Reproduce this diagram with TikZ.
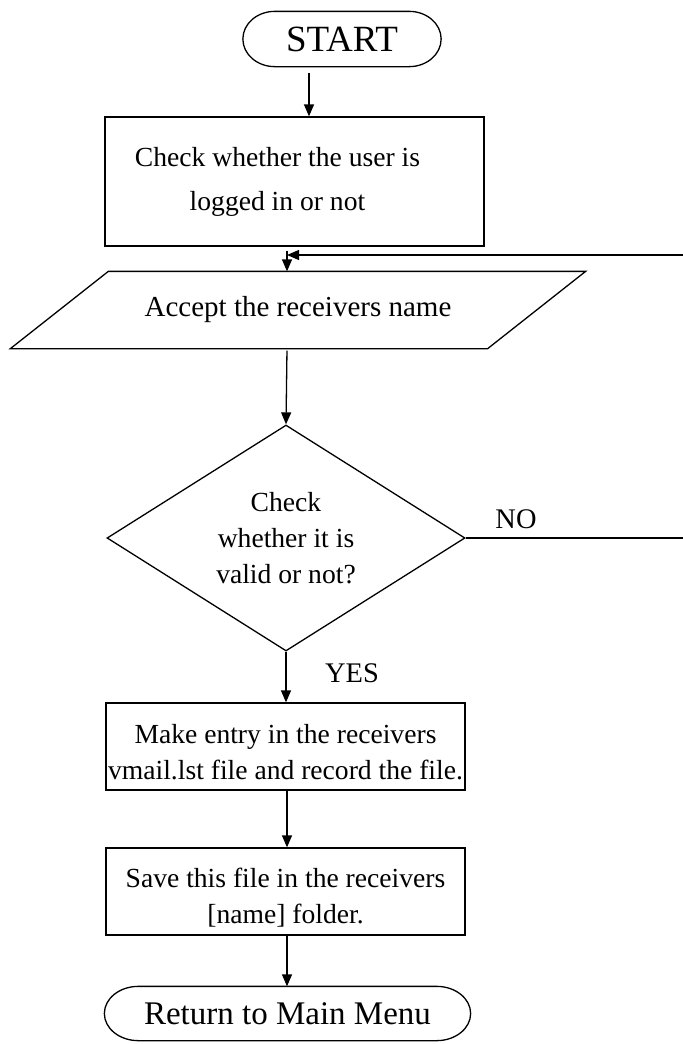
\documentclass[tikz,border=0pt]{standalone}
\usepackage{fontspec}
\setmainfont{Liberation Serif}
\usetikzlibrary{shapes.geometric,arrows.meta,calc}

% outline of a terminal node: straight top and bottom, elliptic ends
\newcommand\termoutline[2]{%
  \draw let \p1=(#1.north), \p2=(#1.south), \n1={(\y1-\y2)/2} in
    ([xshift=#2]#1.north west) -- ([xshift=-#2]#1.north east)
    arc[start angle=90, end angle=-90, x radius=#2, y radius=\n1]
    -- ([xshift=#2]#1.south west)
    arc[start angle=270, end angle=90, x radius=#2, y radius=\n1];}

\begin{document}
\begin{tikzpicture}[x=0.5pt, y=0.5pt, line width=0.65pt,
  every node/.style={font=\fontsize{13.8}{18}\selectfont, inner sep=0pt},
  termtext/.style={align=center},
  procbox/.style={draw, rectangle, align=center},
  decision/.style={draw, diamond, aspect=1.58, align=center},
  lbl/.style={font=\fontsize{14.2}{18}\selectfont},
  arr/.style={-{Triangle[length=6pt, width=5pt]}}]
\useasboundingbox (0,0) rectangle (682,-1044);

% column where the main flow runs
\coordinate (colA) at (287,0);
\coordinate (colS) at (309,0);

% terminals, processes, input and decision
\node[termtext, minimum width=98.5pt, minimum height=27pt,
      font=\fontsize{18.5}{20}\selectfont] (start) at (342,-39) {START};
\termoutline{start}{16pt}

\node[procbox, minimum width=189.5pt, minimum height=64.5pt,
      font=\fontsize{13.8}{22}\selectfont] (login) at (294.5,-181.5)
  {Check whether the user is\hspace*{17pt}\\logged in or not\hspace*{17pt}};

\node[minimum width=287pt, minimum height=38pt,
      font=\fontsize{14.5}{18}\selectfont] (accept) at (298,-310)
  {Accept the receivers name};
\draw ([xshift=49pt]accept.north west) -- (accept.north east)
   -- ([xshift=-49pt]accept.south east) -- (accept.south west) -- cycle;

\node[decision, minimum width=179pt, minimum height=113pt] (valid) at (286,-538)
  {Check\\whether it is\\valid or not?};

\node[procbox, minimum width=179.5pt, minimum height=43.5pt] (entry) at (285.5,-746.5)
  {\rule{0pt}{15.5pt}Make entry in the receivers\\vmail.lst file and record the file.};

\node[procbox, minimum width=179.5pt, minimum height=43.5pt] (save) at (285.5,-891.5)
  {\rule{0pt}{15.5pt}Save this file in the receivers\\{[name]} folder.};

\node[termtext, minimum width=182.5pt, minimum height=26.5pt,
      font=\fontsize{16.5}{20}\selectfont] (menu) at (287.5,-1013.5)
  {Return to Main Menu};
\termoutline{menu}{17pt}

% branch labels
\node[lbl] (nolbl) at (516,-519) {NO};
\node[lbl] (yeslbl) at (352,-673) {YES};

% connectors
\draw[arr, shorten <=3pt] (start.south -| colS) -- (login.north -| colS);
\draw[arr, shorten <=2pt] (login.south -| colA) -- (accept.north -| colA);
\draw[arr, shorten <=1pt] (accept.south -| colA) -- (valid.north);
\draw[arr] (valid.south) -- (entry.north -| valid.south);
\draw[arr] (entry.south -| colA) -- (save.north -| colA);
\draw[arr] (save.south -| colA) -- (menu.north -| colA);

% NO branch loops back to the input step
\coordinate (loopjoin) at (287,-255);
\draw[arr] (valid.east) -- (700,-538) |- (loopjoin);
\end{tikzpicture}
\end{document}
